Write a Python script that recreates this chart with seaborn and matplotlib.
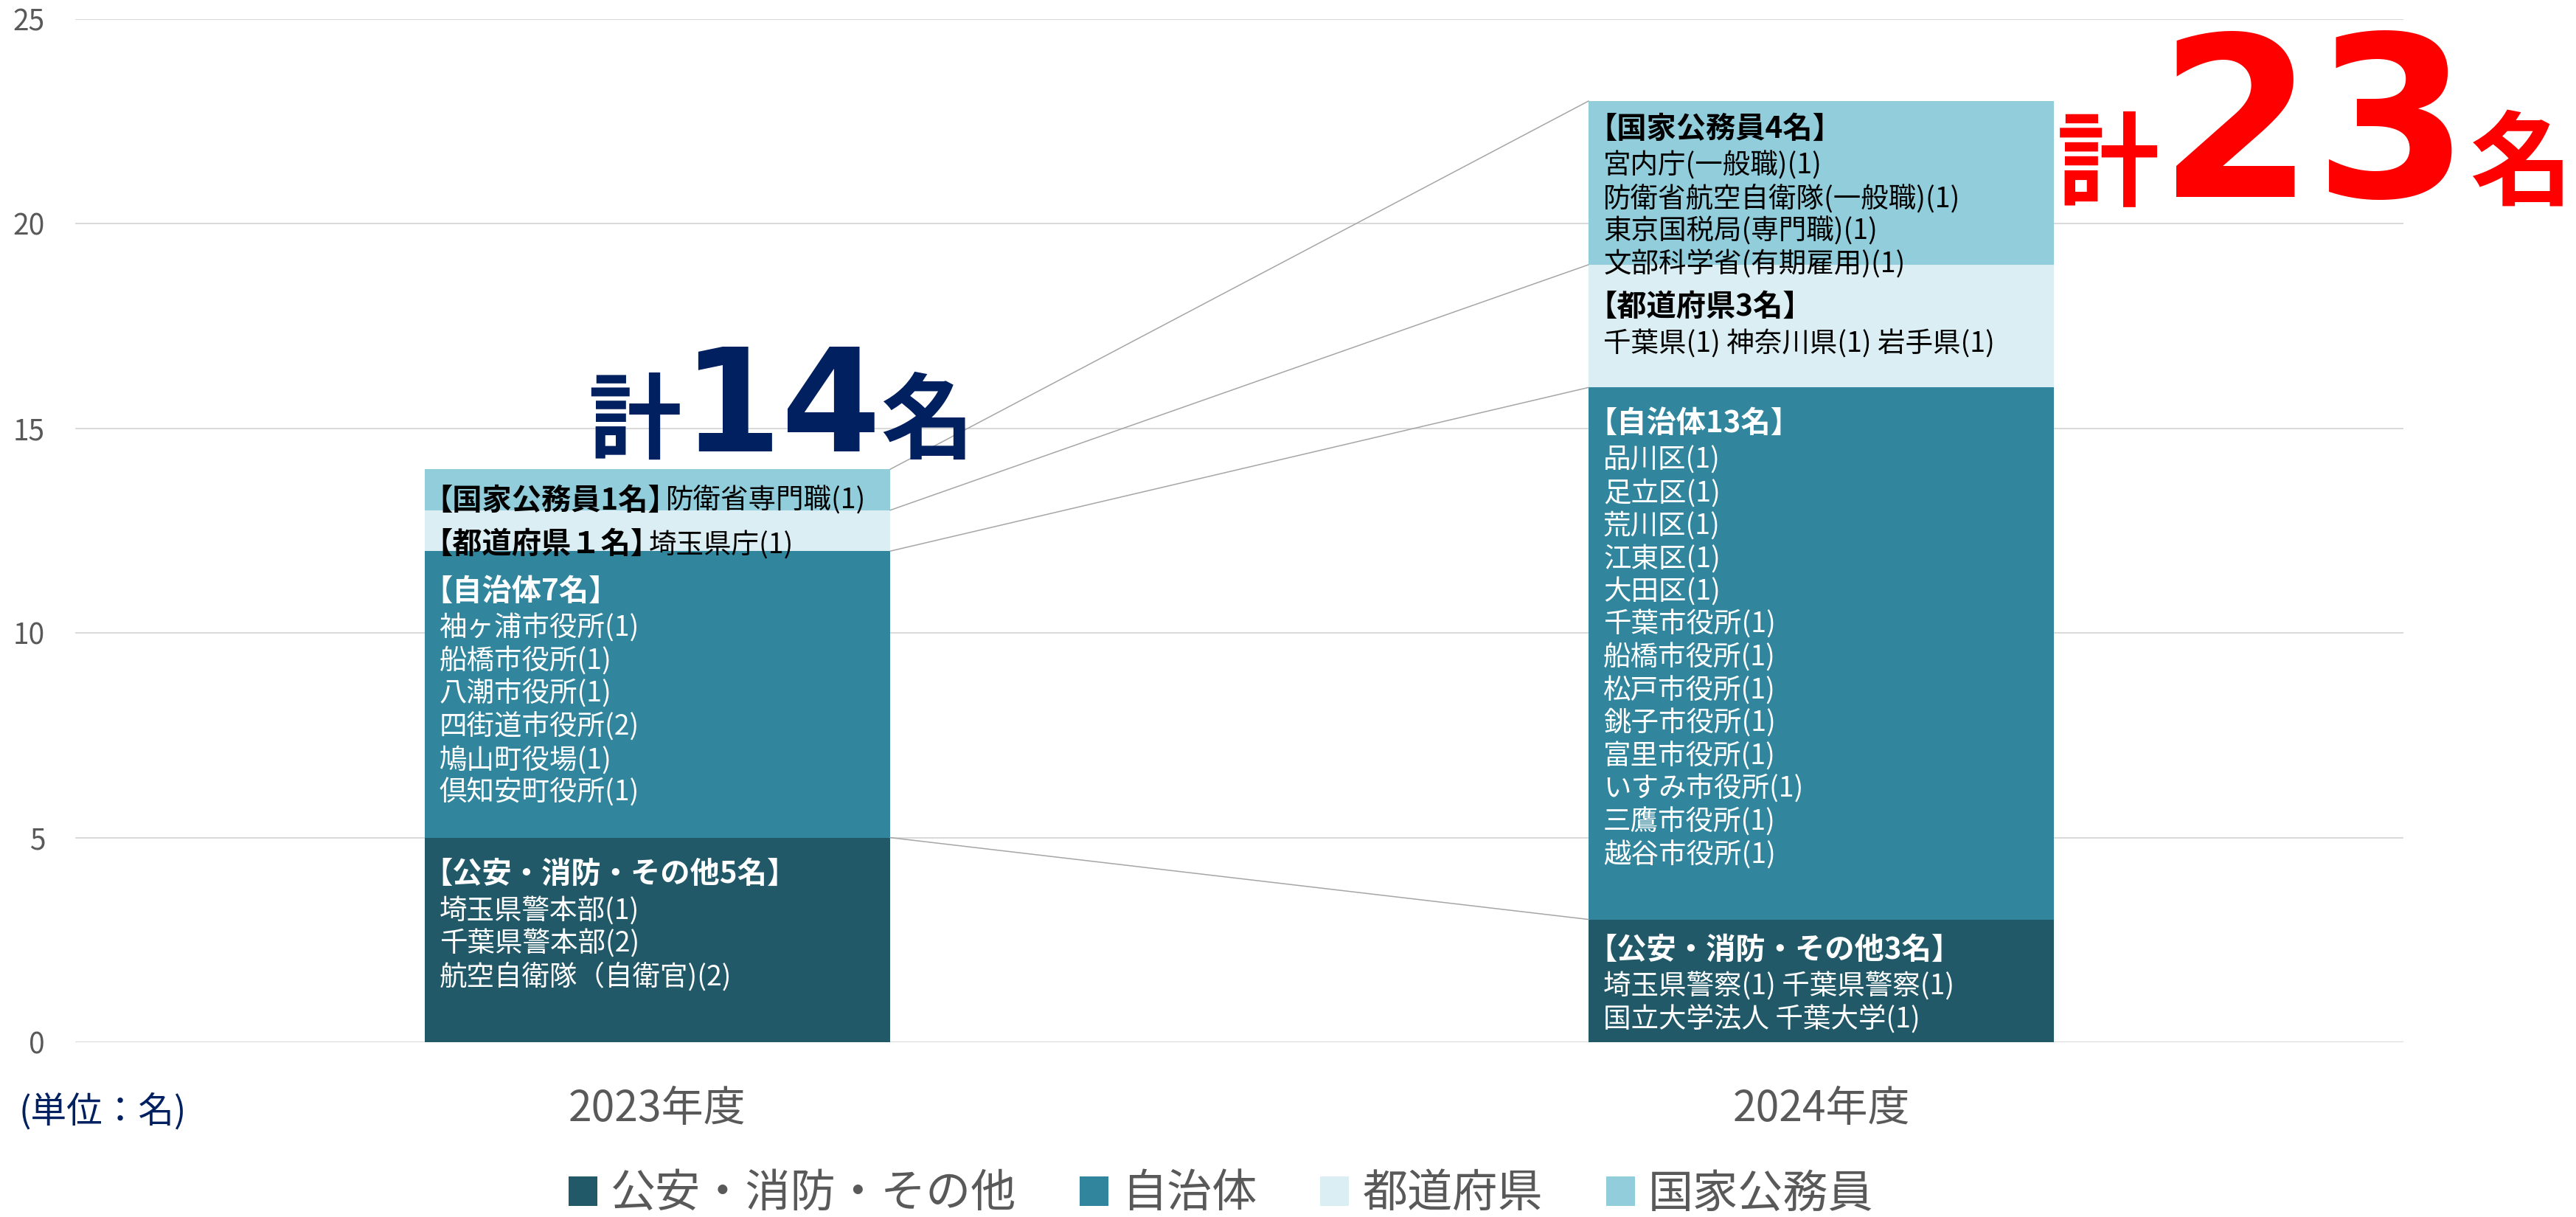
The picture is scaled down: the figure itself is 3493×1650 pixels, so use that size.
import numpy as np
import matplotlib
matplotlib.use('Agg')
import matplotlib.pyplot as plt
import seaborn as sns
from matplotlib.patches import Patch
from matplotlib.transforms import offset_copy

# データ
years = ['2023年度', '2024年度']
categories = ['公安・消防・その他', '自治体', '都道府県', '国家公務員']
counts_2023 = [5, 7, 1, 1]
counts_2024 = [3, 13, 3, 4]

headers_2023 = ['【公安・消防・その他5名】', '【自治体7名】', '【都道府県１名】', '【国家公務員1名】']
details_2023 = [
    ['埼玉県警本部(1)', '千葉県警本部(2)', '航空自衛隊（自衛官)(2)'],
    ['袖ヶ浦市役所(1)', '船橋市役所(1)', '八潮市役所(1)', '四街道市役所(2)', '鳩山町役場(1)', '倶知安町役所(1)'],
    ['埼玉県庁(1)'],
    ['防衛省専門職(1)'],
]
headers_2024 = ['【公安・消防・その他3名】', '【自治体13名】', '【都道府県3名】', '【国家公務員4名】']
details_2024 = [
    ['埼玉県警察(1) 千葉県警察(1)', '国立大学法人 千葉大学(1)'],
    ['品川区(1)', '足立区(1)', '荒川区(1)', '江東区(1)', '大田区(1)', '千葉市役所(1)', '船橋市役所(1)',
     '松戸市役所(1)', '銚子市役所(1)', '富里市役所(1)', 'いすみ市役所(1)', '三鷹市役所(1)', '越谷市役所(1)'],
    ['千葉県(1) 神奈川県(1) 岩手県(1)'],
    ['宮内庁(一般職)(1)', '防衛省航空自衛隊(一般職)(1)', '東京国税局(専門職)(1)', '文部科学省(有期雇用)(1)'],
]

# 見た目
colors = ['#215968', '#31859C', '#DAEEF3', '#92CDDC']
text_colors = ['white', 'white', 'black', 'black']
inline = [[False, False, True, True], [False, False, False, False]]
head_offsets = [[50, 55, 47, 43], [42, 49, 58, 38]]   # 区間上端から見出し中心までの距離(px)

sns.set_style('white')
plt.rcParams['font.family'] = ['Noto Sans CJK JP', 'DejaVu Sans']

W, H = 3493, 1650
fig = plt.figure(figsize=(W / 100, H / 100), dpi=100)
ax = fig.add_axes([102 / W, 1 - 1413 / H, (3259 - 102) / W, (1413 - 26) / H])

counts = np.array([counts_2023, counts_2024])
cum = counts.cumsum(axis=1)

# 積み上げ棒(上の系列から順に重ねて描画)
for k in reversed(range(len(categories))):
    sns.barplot(x=years, y=cum[:, k], color=colors[k], width=0.4, saturation=1,
                errorbar=None, edgecolor='none', linewidth=0, ax=ax, zorder=2)

# 区分線
for k in range(len(categories)):
    ax.plot([0.2, 0.8], [cum[0, k], cum[1, k]], color='#A6A6A6', lw=1.1, zorder=3)

ax.set_xlim(-0.5, 1.5)
ax.set_ylim(0, 25)
ax.set_yticks(range(0, 26, 5))
ax.set_axisbelow(True)
ax.grid(axis='y', color='#D9D9D9', lw=1.4)
ax.grid(axis='x', visible=False)
sns.despine(ax=ax, left=True, bottom=True)
ax.set_xlabel('')
ax.set_ylabel('')
ax.tick_params(axis='y', length=0, pad=29.5, labelsize=28, labelcolor='#595959')
ax.tick_params(axis='x', length=0, pad=44, labelsize=41, labelcolor='#595959')

renderer = fig.canvas.get_renderer()


def place(s, x, y, dx, dy, **kw):
    tr = offset_copy(ax.transData, fig=fig, x=dx, y=dy, units='dots')
    return ax.text(x, y, s, transform=tr, **kw)


# 棒の中のラベル
for i, (heads, dets) in enumerate([(headers_2023, details_2023), (headers_2024, details_2024)]):
    x0 = i - 0.2
    for k in range(len(categories)):
        top = cum[i, k]
        dy = -head_offsets[i][k]
        h = place(heads[k], x0, top, -2, dy, fontsize=29, fontweight='bold',
                  color=text_colors[k], va='center', ha='left', zorder=5)
        if inline[i][k]:
            w = h.get_window_extent(renderer).width
            place(dets[k][0], x0, top, w - 18, dy, fontsize=27,
                  color=text_colors[k], va='center', ha='left', zorder=5)
        else:
            for j, line in enumerate(dets[k]):
                place(line, x0, top, 20, dy - 50 - j * 44.6, fontsize=27,
                      color=text_colors[k], va='center', ha='left', zorder=5)


# 合計ラベル
def total_label(x, y, dx, dy, color, small, big):
    total = str(int(y))
    t1 = place('計', x, y, dx, dy, fontsize=small, fontweight='bold', color=color,
               va='baseline', ha='left', zorder=6)
    w1 = t1.get_window_extent(renderer).width
    t2 = place(total, x, y, dx + w1, dy, fontsize=big, fontweight='bold', color=color,
               family='DejaVu Sans', va='baseline', ha='left', zorder=6)
    w2 = t2.get_window_extent(renderer).width
    place('名', x, y, dx + w1 + w2, dy, fontsize=small, fontweight='bold', color=color,
          va='baseline', ha='left', zorder=6)


total_label(-0.2, cum[0, -1], 222, 24, '#002060', 91, 140)
total_label(1.2, cum[1, -1], 3, -130, '#FF0000', 100, 218)

# 単位
fig.text(25 / W, 1 - 1507 / H, '(単位：名)', fontsize=35, color='#002060', va='center', ha='left')

# 凡例
handles = [Patch(facecolor=c, edgecolor='none') for c in colors]
fig.legend(handles, categories, loc='center', bbox_to_anchor=(0.474, 1 - 1619 / H), ncol=4,
           frameon=False, fontsize=44, handlelength=0.64, handleheight=0.64,
           handletextpad=0.3, columnspacing=1.4, labelcolor='#595959',
           borderpad=0, borderaxespad=0)

fig.savefig('out.png', dpi=100)
